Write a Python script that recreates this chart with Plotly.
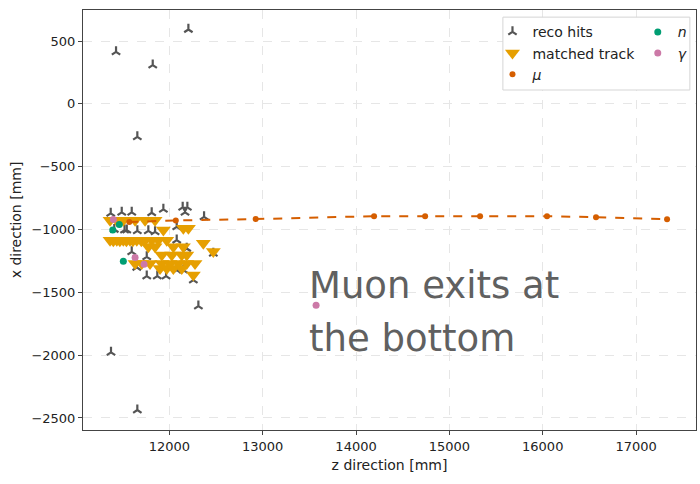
import plotly.graph_objects as go

# ---------------- data (z [mm], x [mm]) ----------------
reco_z = [11429, 11822, 12204, 11657, 11375, 11657, 12311,
          11372, 11490, 11597, 11811, 11936, 12143, 12193, 12168, 12372,
          11544, 11657, 11775, 11847, 12079, 11597, 11758, 12079, 12186,
          11651, 11758, 11871, 11965, 12079, 12150, 12257, 12471, 11410, 11520]
reco_x = [414, 308, 592, -263, -1978, -2437, -1610,
          -872, -864, -864, -867, -840, -824, -824, -864, -899,
          -1005, -1011, -1011, -1019, -979, -1178, -1218, -1085, -1151,
          -1302, -1371, -1371, -1371, -1323, -1323, -1403, -1190, -1000, -1005]

track_z = [11365, 11440, 11507, 11633, 11740, 11847,
           11936, 12150, 12204,
           11365, 11400, 11437, 11470, 11507, 11540, 11579, 11610, 11651, 11700, 11740, 11811, 11882, 11972,
           11775, 11847, 12043, 12150, 12364,
           11919, 12026, 12133, 12186, 12471,
           11633, 11704, 11793, 11919, 12007, 12096, 12186, 12275,
           11900, 11972, 12043, 12133,
           12257]
track_x = [-926, -930, -926, -926, -926, -926,
           -1005, -990, -990,
           -1085, -1090, -1085, -1090, -1085, -1090, -1085, -1090, -1085, -1090, -1085, -1085, -1085, -1085,
           -1138, -1138, -1138, -1138, -1110,
           -1204, -1204, -1204, -1204, -1175,
           -1270, -1270, -1270, -1270, -1270, -1270, -1270, -1270,
           -1310, -1310, -1310, -1310,
           -1363]

mu_z = [11571, 12069, 12925, 14193, 14740, 15329, 16046, 16571, 17332]
mu_x = [-941, -928, -917, -894, -894, -894, -894, -902, -918]

n_z = [11394, 11464, 11507]
n_x = [-1005, -960, -1252]

g_z = [11400, 11633, 11729, 13572]
g_x = [-920, -1222, -1276, -1603]

x_ticks = [12000, 13000, 14000, 15000, 16000, 17000]
y_ticks = [500, 0, -500, -1000, -1500, -2000, -2500]
x_range = [11075, 17642]
y_range = [-2596, 747]

FONT = "DejaVu Sans"
C_RECO = "#555555"
C_TRACK = "#E69F00"
C_MU = "#D55E00"
C_N = "#009E73"
C_G = "#CC79A7"

fig = go.Figure()

fig.add_trace(go.Scatter(
    x=reco_z, y=reco_x, mode="markers", name="reco hits", legend="legend",
    marker=dict(symbol="y-up", size=7, color=C_RECO,
                line=dict(color=C_RECO, width=2.2))))
fig.add_trace(go.Scatter(
    x=track_z, y=track_x, mode="markers", name="matched track", legend="legend",
    marker=dict(symbol="triangle-down", size=13, color=C_TRACK, line=dict(width=0))))
fig.add_trace(go.Scatter(
    x=mu_z, y=mu_x, mode="lines", showlegend=False,
    line=dict(color=C_MU, width=2, dash="dash")))
fig.add_trace(go.Scatter(
    x=mu_z, y=mu_x, mode="markers", name="<i>μ</i>", legend="legend",
    marker=dict(symbol="circle", size=6, color=C_MU)))
fig.add_trace(go.Scatter(
    x=n_z, y=n_x, mode="markers", name="<i>n</i>", legend="legend2",
    marker=dict(symbol="circle", size=7, color=C_N)))
fig.add_trace(go.Scatter(
    x=g_z, y=g_x, mode="markers", name="<i>γ</i>", legend="legend2",
    marker=dict(symbol="circle", size=7, color=C_G)))

axis_common = dict(
    showgrid=True, gridcolor="#e6e6e6", griddash="dash", gridwidth=1,
    zeroline=False, showline=True, linecolor="#444444", linewidth=1, mirror=True,
    ticks="outside", ticklen=4, tickcolor="#444444",
    tickfont=dict(family=FONT, size=13, color="#222222"),
)

fig.update_layout(
    width=700, height=484,
    margin=dict(l=83, r=4, t=10, b=54),
    paper_bgcolor="white", plot_bgcolor="white",
    font=dict(family=FONT, size=13, color="#222222"),
    xaxis=dict(range=x_range, tickvals=x_ticks, ticktext=[str(v) for v in x_ticks],
               title=dict(text="z direction [mm]", font=dict(size=14), standoff=7),
               **axis_common),
    yaxis=dict(range=y_range, tickvals=y_ticks,
               ticktext=[str(v).replace("-", "\u2212") for v in y_ticks],
               title=dict(text="x direction [mm]", font=dict(size=14), standoff=6),
               **axis_common),
    legend=dict(x=0.668, y=0.985, xanchor="left", yanchor="top",
                bgcolor="rgba(0,0,0,0)", borderwidth=0,
                font=dict(family=FONT, size=14, color="#222222"),
                tracegroupgap=0, itemsizing="trace"),
    legend2=dict(x=0.905, y=0.985, xanchor="left", yanchor="top",
                 bgcolor="rgba(0,0,0,0)", borderwidth=0,
                 font=dict(family=FONT, size=14, color="#222222"),
                 tracegroupgap=0, itemsizing="trace"),
    shapes=[dict(type="rect", xref="paper", yref="paper",
                 x0=0.685, x1=0.990, y0=0.8095, y1=0.983,
                 line=dict(color="#d5d5d5", width=1), fillcolor="white", layer="above")],
    annotations=[
        dict(x=13475, y=-1443, xref="x", yref="y", text="Muon exits at",
             showarrow=False, xanchor="left", yanchor="middle",
             font=dict(family=FONT, size=37, color="#606060")),
        dict(x=13475, y=-1865, xref="x", yref="y", text="the bottom",
             showarrow=False, xanchor="left", yanchor="middle",
             font=dict(family=FONT, size=37, color="#606060")),
    ],
)

fig.write_html("out.html")
